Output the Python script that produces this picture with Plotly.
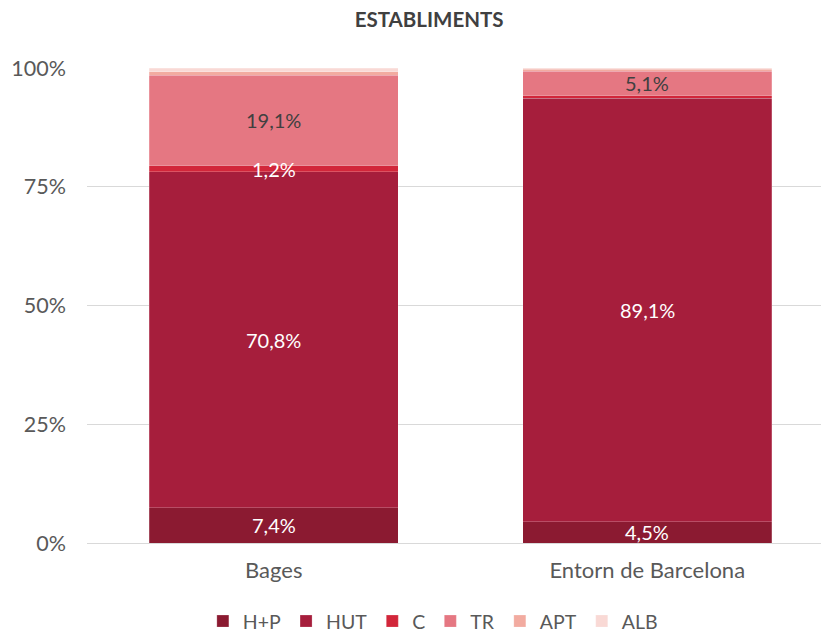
import plotly.graph_objects as go

categories = ["Bages", "Entorn de Barcelona"]
series_names = ["H+P", "HUT", "C", "TR", "APT", "ALB"]
hp = [7.4, 4.5]
hut = [70.8, 89.1]
c = [1.2, 0.6]
tr = [19.1, 5.1]
apt = [0.7, 0.4]
alb = [0.8, 0.3]
labels_hp = ["7,4%", "4,5%"]
labels_hut = ["70,8%", "89,1%"]
labels_c = ["1,2%", ""]
labels_tr = ["19,1%", "5,1%"]
labels_apt = ["", ""]
labels_alb = ["", ""]
tick_vals = [0, 25, 50, 75, 100]
tick_text = ["0%", "25%", "50%", "75%", "100%"]

series = [hp, hut, c, tr, apt, alb]
labels = [labels_hp, labels_hut, labels_c, labels_tr, labels_apt, labels_alb]
colors = ["#8B1A31", "#A61E3C", "#D2263A", "#E57782", "#F2ABA0", "#F9D9D5"]
label_colors = ["white", "white", "white", "#404040", "#404040", "#404040"]

FONT = "Lato"
fig = go.Figure()
for name, vals, col in zip(series_names, series, colors):
    fig.add_trace(go.Bar(
        name=name, x=categories, y=vals, marker=dict(color=col, line=dict(color="rgba(255,255,255,0.35)", width=0.6)),
        width=0.666, hoverinfo="skip",
    ))

cum = [0.0, 0.0]
for vals, labs, lc in zip(series, labels, label_colors):
    for i, cat in enumerate(categories):
        mid = cum[i] + vals[i] / 2
        if labs[i]:
            fig.add_annotation(x=cat, y=mid, text=labs[i], showarrow=False,
                               font=dict(family=FONT, size=20, color=lc), yanchor="middle")
        cum[i] += vals[i]

fig.update_layout(
    barmode="stack",
    width=829, height=636,
    margin=dict(l=78.5, r=2.5, t=60, b=101, autoexpand=False),
    paper_bgcolor="white", plot_bgcolor="white",
    title=dict(text="<b>ESTABLIMENTS</b>", x=0.508, xanchor="center", y=0.981, yanchor="middle",
               xref="container",
               font=dict(family=FONT, size=20.5, color="#404040")),
    font=dict(family=FONT, size=21, color="#595959"),
    xaxis=dict(showgrid=False, showline=True, linecolor="#d9d9d9", linewidth=1, ticks="",
               automargin=False, ticklabelstandoff=8, range=[-0.5, 1.5],
               tickfont=dict(family=FONT, size=22, color="#595959")),
    yaxis=dict(range=[0, 100], tickvals=tick_vals, ticktext=tick_text, showgrid=True,
               gridcolor="#d9d9d9", gridwidth=1, zeroline=False, ticks="", ticklabelstandoff=20,
               automargin=False,
               tickfont=dict(family=FONT, size=21.5, color="#595959")),
    legend=dict(orientation="h", x=0.463, xanchor="center", y=-0.165, yanchor="middle",
                font=dict(family=FONT, size=19.5, color="#595959"), traceorder="normal",
                itemwidth=30, tracegroupgap=0),
    showlegend=True,
)

fig.write_html("out.html")
